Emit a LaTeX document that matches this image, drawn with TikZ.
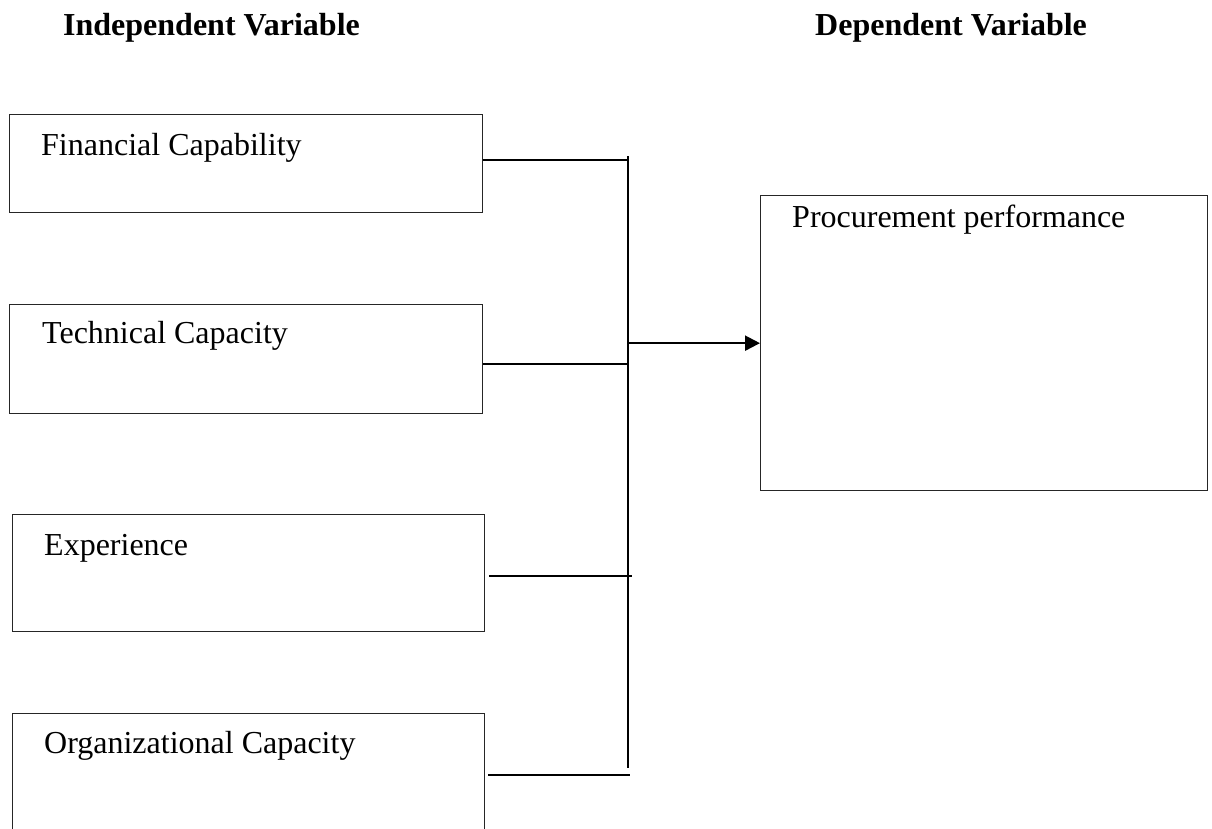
\documentclass[tikz,border=0pt]{standalone}
\usepackage{fontspec}
\setmainfont{Liberation Serif}
\usetikzlibrary{arrows.meta}
\begin{document}
\begin{tikzpicture}[x=1pt,y=-1pt,
  box/.style={draw=black!85, line width=1.3pt, inner sep=0pt, anchor=north west},
  lbl/.style={anchor=base west, inner sep=0pt, font=\fontsize{32}{38}\selectfont},
  hdr/.style={anchor=base west, inner sep=0pt, font=\fontsize{32}{38}\selectfont\bfseries},
  conn/.style={line width=2.2pt, black},
]
\useasboundingbox (0,0) rectangle (1212,828);
% boxes
\node[box, minimum width=473pt, minimum height=98pt] (fin) at (9,114) {};
\node[box, minimum width=473pt, minimum height=109pt] (tech) at (9,304) {};
\node[box, minimum width=472pt, minimum height=117pt] (exp) at (12,514) {};
\node[box, minimum width=472pt, minimum height=125pt] (org) at (12,713) {};
\node[box, minimum width=447pt, minimum height=295pt] (proc) at (760,195) {};
% texts
\node[lbl] (tfin) at (41,155) {Financial Capability};
\node[lbl] (ttech) at (42,343) {Technical Capacity};
\node[lbl] (texp) at (44,555) {Experience};
\node[lbl] (torg) at (44,753) {Organizational Capacity};
\node[lbl] (tproc) at (792,227) {Procurement performance};
\node[hdr] (hind) at (63,35) {Independent Variable};
\node[hdr] (hdep) at (815,35) {Dependent Variable};
% bus
\coordinate (bustop) at (628,156);
\coordinate (busbot) at (628,768);
\draw[conn] (bustop) -- (busbot);
\coordinate (fin-out) at ([yshift=4pt]fin.east);
\coordinate (tech-out) at ([yshift=-4.5pt]tech.east);
\coordinate (exp-out) at ([xshift=4pt,yshift=-2.5pt]exp.east);
\coordinate (org-out) at ([xshift=3pt,yshift=1.5pt]org.east);
\draw[conn] (fin-out) -- (fin-out -| bustop);
\draw[conn] (tech-out) -- (tech-out -| bustop);
\coordinate (exp-end) at ([xshift=4pt]exp-out -| bustop);
\draw[conn] (exp-out) -- (exp-end);
\coordinate (org-end) at ([xshift=2pt]org-out -| bustop);
\draw[conn] (org-out) -- (org-end);
\coordinate (arr) at (proc.west -| bustop);
\draw[conn, -{Triangle[length=15pt,width=15pt]}] ([xshift=-1pt]arr) -- (proc.west);
\end{tikzpicture}
\end{document}
